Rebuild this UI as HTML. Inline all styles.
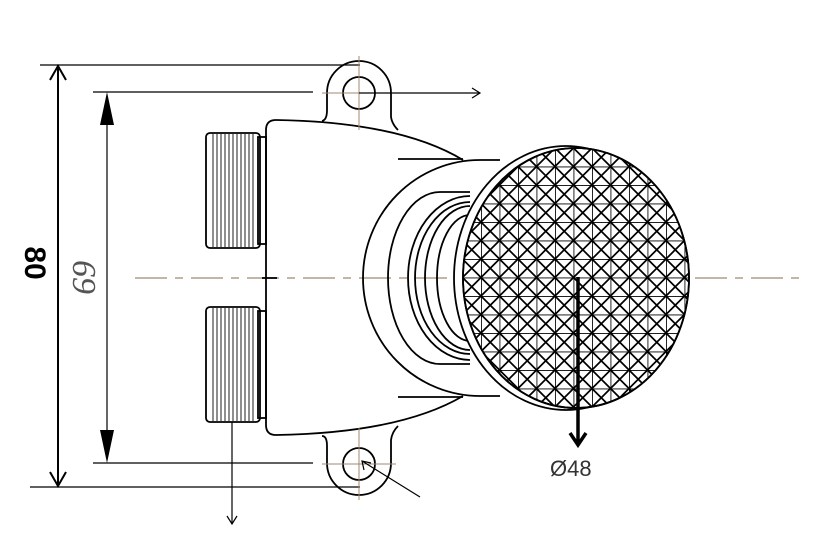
<!DOCTYPE html>
<html><head><meta charset="utf-8"><style>html,body{margin:0;padding:0;background:#fff}svg{display:block}</style></head>
<body>
<svg width="817" height="560" viewBox="0 0 817 560" xmlns="http://www.w3.org/2000/svg">
<defs>
<pattern id="kn" x="0" y="0" width="18.5" height="18.5" patternUnits="userSpaceOnUse">
<path d="M0 0H18.5M0 0V18.5M0 0L18.5 18.5M18.5 0L0 18.5" stroke="#000" stroke-width="1.7" fill="none"/>
</pattern>
<clipPath id="kc"><ellipse cx="576" cy="278" rx="113" ry="130"/></clipPath>
</defs>
<g fill="none" stroke="#000" stroke-width="1.2">
<line x1="40" y1="65" x2="360" y2="65"/>
<line x1="30" y1="487" x2="360" y2="487"/>
<line x1="93" y1="92" x2="313" y2="92"/>
<line x1="93" y1="463" x2="313" y2="463"/>
<line x1="58" y1="67" x2="58" y2="485" stroke-width="2"/>
<path d="M50 80L58 66L66 80M50 472L58 486L66 472" stroke-width="2"/>
<line x1="107" y1="100" x2="107" y2="455"/>
</g>
<path d="M100 125L107 92L114 125Z M100 430L107 463L114 430Z" fill="#000"/>
<text x="0" y="0" transform="translate(25,263) rotate(90)" font-family="Liberation Sans, sans-serif" font-size="30" font-weight="bold" text-anchor="middle">80</text>
<text x="0" y="0" transform="translate(73,277) rotate(90)" font-family="Liberation Serif, serif" font-style="italic" font-size="34" fill="#555" text-anchor="middle">69</text>
<line x1="135" y1="278" x2="800" y2="278" stroke="#a08a70" stroke-width="1.3" stroke-dasharray="32,8,8,8"/>
<g fill="none" stroke="#000" stroke-width="1.8">
<rect x="206" y="133" width="54" height="115" rx="4"/>
<rect x="206" y="307" width="54" height="115" rx="4"/>
<rect x="258" y="137" width="8" height="107"/>
<rect x="258" y="311" width="8" height="107"/>
</g>
<g stroke="#333" stroke-width="1.1">
<path d="M213 134V247M217 134V247M221 134V247M225 134V247M229 134V247M233 134V247M237 134V247M241 134V247M245 134V247M249 134V247M253 134V247"/>
<path d="M213 308V421M217 308V421M221 308V421M225 308V421M229 308V421M233 308V421M237 308V421M241 308V421M245 308V421M249 308V421M253 308V421"/>
</g>
<g fill="none" stroke="#000" stroke-width="1.8">
<path d="M266 130Q266 120 276 120Q400 122 463 160"/>
<path d="M266 130V425Q266 435 276 435Q400 433 463 396"/>
<path d="M262 278H277"/>
<line x1="398" y1="159" x2="463" y2="159"/>
<line x1="398" y1="397" x2="463" y2="397"/>
<path d="M322 121Q327 120 327 110V93A32 32 0 0 1 391 93V117Q392 124 398 130"/>
<path d="M322 436Q327 436 327 446V463A32 32 0 0 0 391 463V440Q392 432 398 426"/>
<circle cx="359" cy="93" r="16"/>
<circle cx="359" cy="464" r="16"/>
<path d="M500 160H480A117 118 0 0 0 480 396H500"/>
<path d="M470 192H440A52 86 0 0 0 440 364H470"/>
<path d="M470 196A62 82 0 0 0 470 360"/>
<path d="M470 202A55 76 0 0 0 470 354"/>
<path d="M470 206A45 72 0 0 0 470 350"/>
<path d="M470 215A33 63 0 0 0 470 341"/>
<ellipse cx="566" cy="278" rx="112" ry="132" fill="#fff"/>
<ellipse cx="576" cy="278" rx="113" ry="130" fill="#fff"/>
</g>
<rect x="460" y="145" width="235" height="270" fill="url(#kn)" clip-path="url(#kc)"/>
<ellipse cx="576" cy="278" rx="113" ry="130" fill="none" stroke="#000" stroke-width="1.8"/>
<g stroke="#a08a70" stroke-width="1">
<path d="M359 56V130M322 93H396M359 428V500M322 464H396"/>
</g>
<g fill="none" stroke="#000" stroke-width="1.2">
<path d="M359 93H480M472 88L480 93L472 98"/>
<path d="M232 422V524M227 516L232 524L237 516"/>
<path d="M420 497L362 461M364 470L362 461L371 463"/>
</g>
<g fill="none" stroke="#000" stroke-width="3.5">
<path d="M578 277V444M570 433L578 445L586 433"/>
</g>
<text x="550" y="476" font-family="Liberation Sans, sans-serif" font-size="22" fill="#333">Ø48</text>
</svg>
</body></html>
